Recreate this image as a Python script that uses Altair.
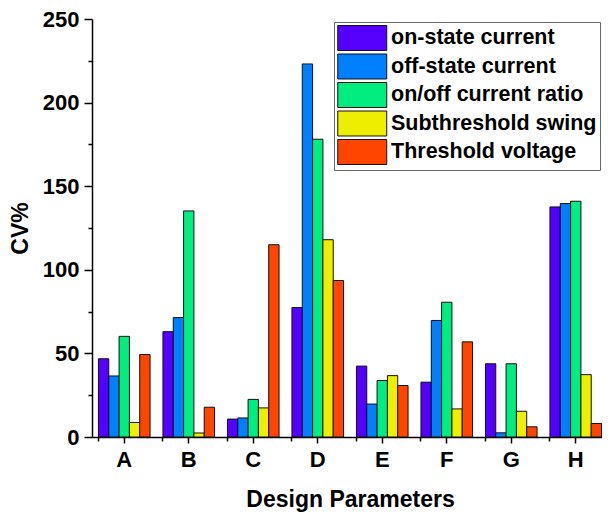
import altair as alt
import pandas as pd

designs = ["A", "B", "C", "D", "E", "F", "G", "H"]
params = ["on-state current", "off-state current", "on/off current ratio",
          "Subthreshold swing", "Threshold voltage"]
colors = ["#5500FF", "#0080FF", "#00EE80", "#EEEE00", "#FF4500"]

on_state = [46.8, 63.0, 10.7, 77.4, 42.4, 32.8, 43.8, 137.6]
off_state = [36.5, 71.4, 11.4, 223.1, 19.7, 69.7, 2.5, 139.6]
on_off = [60.2, 135.2, 22.5, 178.1, 33.8, 80.6, 43.8, 141.0]
ss = [8.7, 2.4, 17.4, 118.0, 36.7, 16.8, 15.4, 37.3]
vth = [49.3, 17.8, 115.0, 93.6, 30.8, 56.9, 6.1, 8.1]

series = [on_state, off_state, on_off, ss, vth]
rows = []
for p, vals in zip(params, series):
    for d, v in zip(designs, vals):
        rows.append({"Design": d, "Parameter": p, "CV": v})
df = pd.DataFrame(rows)

FONT = "Liberation Sans"

x_scale = alt.Scale(domain=designs, paddingInner=0.2, paddingOuter=0.1, range=[0, 516])
y_scale = alt.Scale(domain=[0, 250], nice=False)

bars = alt.Chart(df).mark_bar(stroke="#111111", strokeWidth=1).encode(
    x=alt.X("Design:N", scale=x_scale, sort=designs,
            axis=alt.Axis(title="Design Parameters", labelAngle=0, tickSize=6,
                          labelPadding=6, titlePadding=18, domainColor="black",
                          tickColor="black", domainWidth=1.5, tickWidth=1.5,
                          labelFont=FONT, labelFontSize=22, labelFontWeight="bold",
                          labelColor="black", titleFont=FONT, titleFontSize=23,
                          titleFontWeight="bold", titleColor="black")),
    xOffset=alt.XOffset("Parameter:N", sort=params),
    y=alt.Y("CV:Q", scale=y_scale,
            axis=alt.Axis(title="CV%", values=[0, 50, 100, 150, 200, 250], tickSize=8,
                          labelPadding=5, titlePadding=10, grid=False,
                          domainColor="black", tickColor="black",
                          domainWidth=1.5, tickWidth=1.5,
                          labelFont=FONT, labelFontSize=22, labelFontWeight="bold",
                          labelColor="black", titleFont=FONT, titleFontSize=23,
                          titleFontWeight="bold", titleColor="black")),
    color=alt.Color("Parameter:N", sort=params,
                    scale=alt.Scale(domain=params, range=colors),
                    legend=alt.Legend(title=None, orient="none", legendX=242, legendY=3,
                                      symbolType="M-1,-1.02H3V1.02H-1Z",
                                      symbolSize=600, symbolStrokeColor="#111111",
                                      symbolStrokeWidth=1, symbolOpacity=1,
                                      labelFontSize=21.5, labelFont=FONT,
                                      labelFontWeight="bold", labelColor="black",
                                      labelOffset=28, rowPadding=-1.5, padding=3,
                                      strokeColor="#666666", fillColor="white",
                                      labelLimit=400)),
)

minor_df = pd.DataFrame({"Design": designs, "CV": [0] * len(designs)})
minor = alt.Chart(minor_df).mark_bar(opacity=0).encode(
    x=alt.X("Design:N", scale=x_scale, sort=designs,
            axis=alt.Axis(title=None, labels=False, domain=False, tickSize=4,
                          bandPosition=0, orient="bottom", tickColor="black",
                          tickWidth=1.5)),
    y=alt.Y("CV:Q", scale=y_scale,
            axis=alt.Axis(title=None, labels=False, domain=False, tickSize=4,
                          values=[25, 75, 125, 175, 225], orient="left", grid=False,
                          tickColor="black", tickWidth=1.5)),
)

chart = alt.layer(bars, minor).resolve_axis(x="independent", y="independent").properties(
    width=510, height=418,
    autosize=alt.AutoSizeParams(type="none"),
    padding={"left": 84, "top": 11, "right": 0, "bottom": 79},
    background="white",
).configure_view(stroke=None)

chart.save("out.html", embed_options={"renderer": "svg", "actions": False})
